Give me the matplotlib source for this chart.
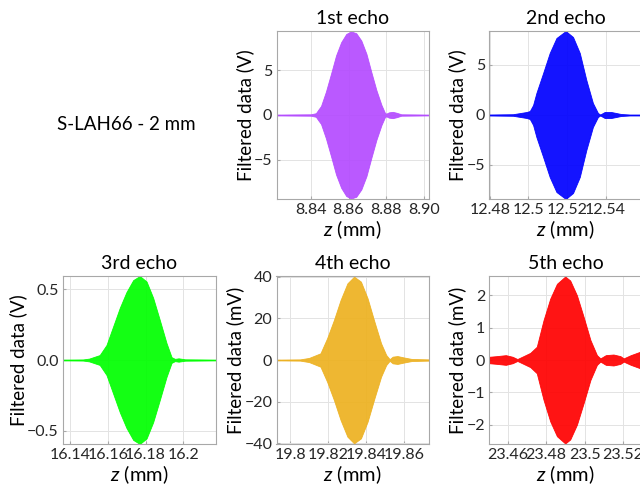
import numpy as np
import matplotlib
matplotlib.use("Agg")
import matplotlib.pyplot as plt

plt.rcParams['font.family'] = ['Lato', 'DejaVu Sans']
plt.rcParams['mathtext.fontset'] = 'custom'
plt.rcParams['mathtext.it'] = 'Lato:italic'
plt.rcParams['mathtext.rm'] = 'Lato'

# envelope of the filtered echoes (z in mm, amplitude in V or mV)
z1 = [8.8218, 8.8400, 8.8427, 8.8440, 8.8454, 8.8480, 8.8507, 8.8534, 8.8561, 8.8588, 8.8614,
      8.8641, 8.8668, 8.8695, 8.8721, 8.8748, 8.8775, 8.8793, 8.8800, 8.8815, 8.8835, 8.8855,
      8.8880, 8.9027]
a1 = [0.05, 0.08, 0.2, 0.6, 1.0, 2.6, 4.6, 6.67, 8.15, 9.07, 9.35,
      9.15, 8.33, 6.85, 4.81, 2.78, 1.11, 0.25, 0.15, 0.3, 0.35, 0.25,
      0.08, 0.05]

z2 = [12.4797, 12.4920, 12.4990, 12.5007, 12.5024, 12.5041, 12.5076, 12.5110, 12.5145, 12.5193,
      12.5231, 12.5266, 12.5300, 12.5334, 12.5360, 12.5372, 12.5395, 12.5429, 12.5480, 12.5524, 12.5590]
a2 = [0.05, 0.08, 0.3, 0.4, 1.0, 2.2, 4.2, 6.2, 7.7, 8.4,
      7.8, 6.2, 3.5, 1.2, 0.2, 0.05, 0.3, 0.3, 0.1, 0.05, 0.05]

z3 = [16.1361, 16.1467, 16.1500, 16.1556, 16.1592, 16.1627, 16.1663, 16.1698, 16.1734, 16.1769,
      16.1805, 16.1840, 16.1876, 16.1911, 16.1938, 16.1956, 16.1975, 16.2010, 16.2174]
a3 = [0.003, 0.004, 0.01, 0.035, 0.106, 0.236, 0.37, 0.48, 0.565, 0.594,
      0.555, 0.44, 0.28, 0.12, 0.02, 0.008, 0.012, 0.005, 0.003]

z4 = [19.7929, 19.8053, 19.8100, 19.8160, 19.8195, 19.8231, 19.8266, 19.8302, 19.8337, 19.8373,
      19.8408, 19.8444, 19.8479, 19.8506, 19.8524, 19.8540, 19.8565, 19.8600, 19.8640, 19.8731]
a4 = [0.2, 0.3, 1.0, 3.2, 10.4, 19.2, 28.8, 36.8, 40.0, 37.6,
      29.6, 18.4, 8.0, 2.4, 0.4, 1.6, 1.9, 1.2, 0.5, 0.3]

z5 = [23.4504, 23.4543, 23.4590, 23.4625, 23.4650, 23.4682, 23.4717, 23.4751, 23.4786, 23.4821,
      23.4856, 23.4899, 23.4925, 23.4960, 23.4995, 23.5030, 23.5064, 23.5082, 23.5110, 23.5150,
      23.5186, 23.5203, 23.5240, 23.5300]
a5 = [0.1, 0.12, 0.15, 0.1, 0.03, 0.12, 0.22, 0.41, 1.23, 1.9,
      2.36, 2.585, 2.46, 2.0, 1.33, 0.62, 0.15, 0.05, 0.15, 0.17,
      0.12, 0.05, 0.15, 0.28]

titles = ['1st echo', '2nd echo', '3rd echo', '4th echo', '5th echo']
ylabels = ['Filtered data (V)', 'Filtered data (V)', 'Filtered data (V)',
           'Filtered data (mV)', 'Filtered data (mV)']
colors = ['#B44BFF', '#0000FF', '#00FF00', '#EDB120', '#FF0000']
xticks = [[8.84, 8.86, 8.88, 8.90], [12.48, 12.5, 12.52, 12.54], [16.14, 16.16, 16.18, 16.2],
          [19.8, 19.82, 19.84, 19.86], [23.46, 23.48, 23.5, 23.52]]
xticklabels = [['8.84', '8.86', '8.88', '8.90'], ['12.48', '12.5', '12.52', '12.54'],
               ['16.14', '16.16', '16.18', '16.2'], ['19.8', '19.82', '19.84', '19.86'],
               ['23.46', '23.48', '23.5', '23.52']]
yticks = [[-5, 0, 5], [-5, 0, 5], [-0.5, 0.0, 0.5], [-40, -20, 0, 20, 40], [-2, -1, 0, 1, 2]]
yticklabels = [['\u22125', '0', '5'], ['\u22125', '0', '5'], ['\u22120.5', '0.0', '0.5'],
               ['\u221240', '\u221220', '0', '20', '40'], ['\u22122', '\u22121', '0', '1', '2']]
ylims = [9.4, 8.4, 0.594, 40.3, 2.6]

zs = [z1, z2, z3, z4, z5]
amps = [a1, a2, a3, a4, a5]

fig = plt.figure(figsize=(6.4, 4.91), dpi=100)
W, H = 640.0, 491.0
# axes boxes in pixels: left, top, width, height
boxes = [(276.5, 31, 152.5, 168), (489.3, 31, 153, 168),
         (63, 276, 153, 168), (276.5, 276, 152.5, 168), (489.3, 276, 153, 168)]

for i in range(5):
    l, t, w, h = boxes[i]
    ax = fig.add_axes([l / W, (H - t - h) / H, w / W, h / H])
    z = np.array(zs[i])
    a = np.array(amps[i])
    ax.fill_between(z, -a, a, color=colors[i], alpha=0.92, lw=0.6, edgecolor=colors[i])
    ax.set_xlim(z[0], z[-1])
    ax.set_ylim(-ylims[i], ylims[i])
    ax.set_xticks(xticks[i])
    ax.set_xticklabels(xticklabels[i])
    ax.set_yticks(yticks[i])
    ax.set_yticklabels(yticklabels[i])
    ax.grid(True, color='#E3E3E3', lw=0.7)
    ax.set_axisbelow(True)
    for s in ax.spines.values():
        s.set_color('#A8A8A8')
        s.set_linewidth(0.8)
    ax.tick_params(direction='in', length=2.5, color='#A8A8A8', labelsize=11.5,
                   labelcolor='#262626', pad=3)
    ax.set_title(titles[i], fontsize=14, pad=5)
    ax.set_ylabel(ylabels[i], fontsize=13.5, labelpad=0)
    ax.set_xlabel('$z$ (mm)', fontsize=14.5, labelpad=1)

fig.text(126 / W, 1 - 125 / H, 'S-LAH66 - 2 mm', fontsize=13.5, ha='center', va='center')

fig.savefig('out.png', dpi=100)
